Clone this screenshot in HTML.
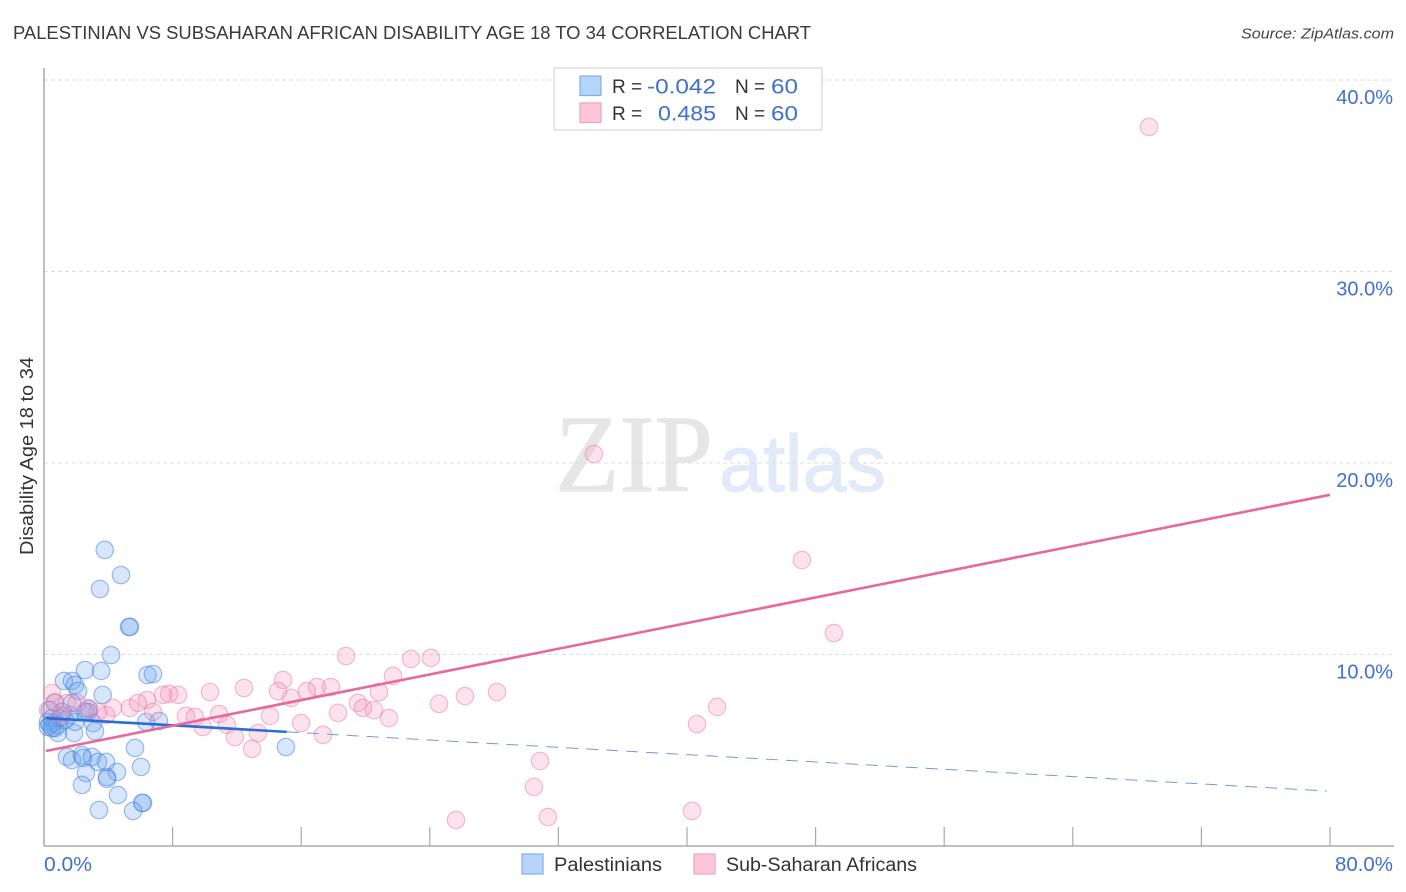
<!DOCTYPE html>
<html lang="en">
<head>
<meta charset="utf-8">
<title>Palestinian vs Sub-Saharan African Disability Age 18 to 34 Correlation Chart</title>
<style>
html,body{margin:0;padding:0;background:#fff;width:1406px;height:892px;overflow:hidden}
svg{display:block;font-family:"Liberation Sans",sans-serif}
</style>
</head>
<body>
<svg id="chart" width="1406" height="892" viewBox="0 0 1406 892" xmlns="http://www.w3.org/2000/svg">
<rect x="0" y="0" width="1406" height="892" fill="#fff"/>
<text x="13" y="39" font-size="18.5" fill="#3a3a3a" textLength="798" lengthAdjust="spacingAndGlyphs">PALESTINIAN VS SUBSAHARAN AFRICAN DISABILITY AGE 18 TO 34 CORRELATION CHART</text>
<text x="1394" y="38.5" font-size="15" font-style="italic" fill="#444" text-anchor="end" textLength="153" lengthAdjust="spacingAndGlyphs">Source: ZipAtlas.com</text>
<text transform="translate(33 456) rotate(-90)" font-size="18" fill="#333" text-anchor="middle" textLength="198" lengthAdjust="spacingAndGlyphs">Disability Age 18 to 34</text>
<g>
<text x="555" y="491" font-family="'Liberation Serif',serif" font-size="110" fill="#e6e6e6" stroke="#e6e6e6" stroke-width="1" textLength="158" lengthAdjust="spacingAndGlyphs">ZIP</text>
<text x="719" y="491" font-size="80" fill="#e0eaf8" stroke="#e0eaf8" stroke-width="1" textLength="167" lengthAdjust="spacingAndGlyphs">atlas</text>
</g>
<g id="grid"></g>
<g id="axes"></g>
<g id="points-blue"></g>
<g id="points-pink"></g>
<g id="trends"></g>
<g>
<rect x="554" y="68" width="268" height="62" fill="#fff" stroke="#ddd" stroke-width="1.5"/>
<rect x="580" y="76" width="21" height="19.5" fill="#b6d3fa" stroke="#7fb0ec" stroke-width="1.2"/>
<rect x="580" y="103" width="21" height="19.5" fill="#fcc6d8" stroke="#f0a3bd" stroke-width="1.2"/>
<text x="612" y="93" font-size="19" fill="#333">R =</text>
<text x="716" y="93.5" font-size="21" fill="#3d70cf" text-anchor="end" textLength="69" lengthAdjust="spacingAndGlyphs">-0.042</text>
<text x="735" y="93" font-size="19" fill="#333">N =</text>
<text x="798" y="93.5" font-size="21" fill="#3d70cf" text-anchor="end" textLength="27" lengthAdjust="spacingAndGlyphs">60</text>
<text x="612" y="120" font-size="19" fill="#333">R =</text>
<text x="716" y="120.5" font-size="21" fill="#3d70cf" text-anchor="end" textLength="58" lengthAdjust="spacingAndGlyphs">0.485</text>
<text x="735" y="120" font-size="19" fill="#333">N =</text>
<text x="798" y="120.5" font-size="21" fill="#3d70cf" text-anchor="end" textLength="27" lengthAdjust="spacingAndGlyphs">60</text>
</g>
<g>
<rect x="522" y="854" width="21" height="20" fill="#b6d3fa" stroke="#7fb0ec" stroke-width="1.2"/>
<text x="554" y="871" font-size="19" fill="#333" textLength="108" lengthAdjust="spacingAndGlyphs">Palestinians</text>
<rect x="694" y="854" width="21" height="20" fill="#fcc6d8" stroke="#f0a3bd" stroke-width="1.2"/>
<text x="726" y="871" font-size="19" fill="#333" textLength="191" lengthAdjust="spacingAndGlyphs">Sub-Saharan Africans</text>
</g>
</svg>
<script>
const yTickValues = [10, 20, 30, 40];
const yTickLabels = ["10.0%", "20.0%", "30.0%", "40.0%"];
const xTickValues = [8, 16, 24, 32, 40, 48, 56, 64, 72, 80];
const xEdgeValues = [0, 80];
const xEdgeLabels = ["0.0%", "80.0%"];

const palestiniansX = [3.78,4.79,3.48,5.29,5.35,4.17,2.55,3.55,6.44,6.78,1.24,1.74,1.93,2.12,3.65,2.80,2.74,3.05,3.17,1.87,0.87,0.56,6.35,7.15,0.37,0.68,5.66,6.03,1.43,1.74,2.36,2.43,2.99,3.36,3.86,2.61,4.54,3.92,3.92,2.36,4.60,6.16,6.10,5.54,3.42,15.05,0.25,0.37,0.50,0.68,1.00,0.25,0.87,1.31,1.62,1.93,2.55,1.74,1.12,0.50];
const palestiniansY = [15.46,14.15,13.42,11.44,11.44,9.97,9.19,9.14,8.93,8.98,8.62,8.62,8.41,8.09,7.89,7.15,7.00,6.42,6.00,5.90,5.90,6.42,6.48,6.53,7.10,7.47,5.12,4.13,4.65,4.49,4.75,4.60,4.65,4.39,4.39,3.81,3.86,3.60,3.50,3.19,2.66,2.25,2.25,1.83,1.88,5.17,6.48,6.32,6.68,6.16,6.68,6.21,6.32,6.58,6.84,6.48,7.00,7.47,7.00,6.16];
const subSaharanX = [68.74,34.21,47.15,49.14,18.79,22.83,24.07,21.71,14.87,16.98,17.85,12.44,20.84,26.19,28.18,14.56,16.36,10.33,8.34,7.78,7.40,6.41,15.37,19.53,19.84,20.53,21.46,18.29,15.99,14.06,13.31,12.94,17.36,24.57,30.86,30.48,25.63,31.35,40.62,41.87,40.31,4.29,3.86,5.35,5.85,6.78,8.83,9.39,9.89,10.89,11.38,11.88,0.50,0.68,1.43,2.74,2.05,0.25,1.12,3.36];
const subSaharanY = [37.55,20.47,14.93,11.12,9.92,9.77,9.82,8.88,8.67,8.30,8.30,8.25,8.04,7.83,8.04,8.09,8.09,8.04,7.89,7.94,7.89,7.62,7.73,7.47,7.21,7.10,6.68,6.95,6.42,6.79,5.90,5.07,5.80,7.42,4.44,3.08,1.36,1.51,6.37,7.26,1.83,7.21,6.84,7.21,7.47,7.00,6.79,6.74,6.21,6.89,6.32,5.69,7.99,7.52,7.47,7.21,7.47,7.10,6.79,7.00];

const palestiniansTrendX = [0.1, 15.1, 79.8];
const palestiniansTrendY = [6.68, 5.96, 2.87];
const subSaharanTrendX = [0.12, 80];
const subSaharanTrendY = [4.96, 18.34];

const NS = "http://www.w3.org/2000/svg";
function xScale(v) { return 44 + v * 16.075; }
function yScale(v) { return 846 - v * 19.15; }
function make(tag, attrs, parent) {
  const el = document.createElementNS(NS, tag);
  for (const k in attrs) el.setAttribute(k, attrs[k]);
  parent.appendChild(el);
  return el;
}

const grid = document.getElementById("grid");
const axes = document.getElementById("axes");





yTickValues.forEach(function (v, i) {
  const line = make("line", { x1: 44, x2: 1394, y1: yScale(v), y2: yScale(v), stroke: "#dedede", "stroke-width": 1, "stroke-dasharray": "4 3" }, grid);
  
  
  const label = make("text", { x: 1393, y: yScale(v) + 24, "font-size": 20, fill: "#3d70cf", "text-anchor": "end" }, axes);
  
  
  label.textContent = yTickLabels[i];
});

const yAxis = make("line", { x1: 44, x2: 44, y1: 68, y2: 846, stroke: "#aaa", "stroke-width": 1.5 }, axes);


const xAxis = make("line", { x1: 44, x2: 1394, y1: 846, y2: 846, stroke: "#aaa", "stroke-width": 1.5 }, axes);



xTickValues.forEach(function (v) {
  const tick = make("line", { x1: xScale(v), x2: xScale(v), y1: 827, y2: 846, stroke: "#aaa", "stroke-width": 1.2 }, axes);
  
  
});

xEdgeValues.forEach(function (v, i) {
  const label = make("text", { x: i === 0 ? xScale(v) : 1393, y: 871, "font-size": 20, fill: "#3d70cf", "text-anchor": i === 0 ? "start" : "end", textLength: i === 0 ? 48 : 58, lengthAdjust: "spacingAndGlyphs" }, axes);
  
  
  label.textContent = xEdgeLabels[i];
});

const blueGroup = document.getElementById("points-blue");


palestiniansX.forEach(function (v, i) {
  const c = make("circle", { cx: xScale(v), cy: yScale(palestiniansY[i]), r: 8.7, fill: "rgba(110,165,240,0.28)", stroke: "rgba(60,125,220,0.5)", "stroke-width": 1.2 }, blueGroup);
  
  
});

const pinkGroup = document.getElementById("points-pink");


subSaharanX.forEach(function (v, i) {
  const c = make("circle", { cx: xScale(v), cy: yScale(subSaharanY[i]), r: 8.7, fill: "rgba(245,150,185,0.28)", stroke: "rgba(232,110,155,0.45)", "stroke-width": 1.2 }, pinkGroup);
  
  
});

const trends = document.getElementById("trends");


const blueSolid = make("line", { x1: xScale(palestiniansTrendX[0]), y1: yScale(palestiniansTrendY[0]), x2: xScale(palestiniansTrendX[1]), y2: yScale(palestiniansTrendY[1]), stroke: "#2a6dd6", "stroke-width": 2.6 }, trends);


const blueDash = make("line", { x1: xScale(palestiniansTrendX[1]), y1: yScale(palestiniansTrendY[1]), x2: xScale(palestiniansTrendX[2]), y2: yScale(palestiniansTrendY[2]), stroke: "#6f9ade", "stroke-width": 1, "stroke-dasharray": "12 8" }, trends);


const pinkLine = make("line", { x1: xScale(subSaharanTrendX[0]), y1: yScale(subSaharanTrendY[0]), x2: xScale(subSaharanTrendX[1]), y2: yScale(subSaharanTrendY[1]), stroke: "#e9689a", "stroke-width": 2.6 }, trends);


</script>
</body>
</html>
